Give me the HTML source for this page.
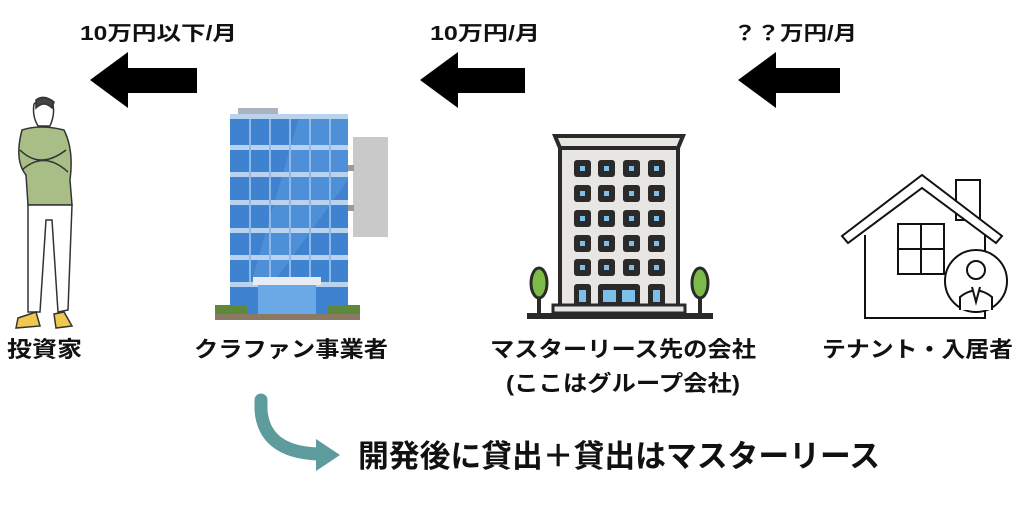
<!DOCTYPE html>
<html><head><meta charset="utf-8"><style>
html,body{margin:0;padding:0;background:#fff;width:1024px;height:530px;overflow:hidden}
svg{display:block}
text{font-family:"Liberation Sans","Noto Sans CJK JP",sans-serif;font-weight:bold;fill:#111}
</style></head><body>
<svg width="1024" height="530" viewBox="0 0 1024 530" xmlns="http://www.w3.org/2000/svg">
<text x="80" y="40" font-size="20" textLength="157" lengthAdjust="spacingAndGlyphs">10万円以下/月</text>
<text x="430" y="40" font-size="20" textLength="110" lengthAdjust="spacingAndGlyphs">10万円/月</text>
<text x="733" y="40" font-size="20" textLength="124" lengthAdjust="spacingAndGlyphs">？？万円/月</text>
<polygon points="90,80 128,52 128,68 197,68 197,93 128,93 128,108" fill="#000"/>
<polygon points="420,80 458,52 458,68 525,68 525,93 458,93 458,108" fill="#000"/>
<polygon points="738,80 776,52 776,68 840,68 840,93 776,93 776,108" fill="#000"/>
<g stroke="#333" stroke-width="1.5">
<path d="M34,104 Q42,96 52,102 Q56,112 50,126 L38,126 Q32,116 34,104Z" fill="#fff"/>
<path d="M36,100 Q44,94 54,102 L52,108 Q44,100 36,108Z" fill="#444"/>
<path d="M22,130 Q40,124 64,130 Q74,150 70,180 L72,205 L28,205 L26,175 Q14,160 22,130Z" fill="#a9bd86"/>
<path d="M20,150 Q40,170 66,150 M22,170 Q44,150 68,172" fill="none"/>
<path d="M28,205 L72,205 L68,310 L58,312 L52,220 L46,220 L40,312 L28,312 Z" fill="#fff"/>
<path d="M18,318 L36,312 L40,326 L16,328Z" fill="#f0c850"/>
<path d="M54,314 L64,312 L72,326 L56,328Z" fill="#f0c850"/>
</g>
<rect x="238" y="108" width="40" height="6" fill="#aab4be"/>
<rect x="230" y="114" width="118" height="200" fill="#3f82cf"/>
<polygon points="300,114 348,114 348,180 270,287 250,287" fill="#5d9de0" opacity="0.5"/>
<g fill="#b9d3ee">
<rect x="230" y="114" width="118" height="5"/><rect x="230" y="145" width="118" height="5"/><rect x="230" y="172" width="118" height="5"/><rect x="230" y="200" width="118" height="5"/><rect x="230" y="228" width="118" height="5"/><rect x="230" y="255" width="118" height="5"/><rect x="230" y="282" width="118" height="5"/>
</g>
<g fill="#8fb8e6">
<rect x="249" y="119" width="2" height="163"/><rect x="269" y="119" width="2" height="163"/><rect x="289" y="119" width="2" height="163"/><rect x="309" y="119" width="2" height="163"/><rect x="329" y="119" width="2" height="163"/>
</g>
<rect x="253" y="277" width="68" height="8" fill="#e6ecf2"/>
<rect x="258" y="285" width="58" height="30" fill="#6aa8e6"/>
<rect x="353" y="137" width="35" height="100" fill="#c9c9c9"/>
<rect x="348" y="165" width="6" height="6" fill="#999"/><rect x="348" y="205" width="6" height="6" fill="#999"/>
<rect x="215" y="305" width="32" height="12" fill="#5d8a3a"/><rect x="328" y="305" width="32" height="12" fill="#5d8a3a"/>
<rect x="215" y="314" width="145" height="6" fill="#8b7a63"/>
<polygon points="555,136 683,136 678,148 560,148" fill="#e8e6e2" stroke="#2a2a2a" stroke-width="4"/>
<rect x="560" y="148" width="118" height="164" fill="#e8e6e2" stroke="#2a2a2a" stroke-width="4"/>
<g fill="#2a2a2a">
<rect x="574" y="160" width="17" height="17" rx="3"/><rect x="598" y="160" width="17" height="17" rx="3"/><rect x="623" y="160" width="17" height="17" rx="3"/><rect x="648" y="160" width="17" height="17" rx="3"/>
<rect x="574" y="185" width="17" height="17" rx="3"/><rect x="598" y="185" width="17" height="17" rx="3"/><rect x="623" y="185" width="17" height="17" rx="3"/><rect x="648" y="185" width="17" height="17" rx="3"/>
<rect x="574" y="210" width="17" height="17" rx="3"/><rect x="598" y="210" width="17" height="17" rx="3"/><rect x="623" y="210" width="17" height="17" rx="3"/><rect x="648" y="210" width="17" height="17" rx="3"/>
<rect x="574" y="235" width="17" height="17" rx="3"/><rect x="598" y="235" width="17" height="17" rx="3"/><rect x="623" y="235" width="17" height="17" rx="3"/><rect x="648" y="235" width="17" height="17" rx="3"/>
<rect x="574" y="259" width="17" height="17" rx="3"/><rect x="598" y="259" width="17" height="17" rx="3"/><rect x="623" y="259" width="17" height="17" rx="3"/><rect x="648" y="259" width="17" height="17" rx="3"/>
<rect x="574" y="284" width="17" height="22" rx="3"/><rect x="598" y="284" width="42" height="22" rx="3"/><rect x="648" y="284" width="17" height="22" rx="3"/>
</g>
<g fill="#7cc0ea">
<rect x="580" y="166" width="5" height="5"/><rect x="604" y="166" width="5" height="5"/><rect x="629" y="166" width="5" height="5"/><rect x="654" y="166" width="5" height="5"/>
<rect x="580" y="191" width="5" height="5"/><rect x="604" y="191" width="5" height="5"/><rect x="629" y="191" width="5" height="5"/><rect x="654" y="191" width="5" height="5"/>
<rect x="580" y="216" width="5" height="5"/><rect x="604" y="216" width="5" height="5"/><rect x="629" y="216" width="5" height="5"/><rect x="654" y="216" width="5" height="5"/>
<rect x="580" y="241" width="5" height="5"/><rect x="604" y="241" width="5" height="5"/><rect x="629" y="241" width="5" height="5"/><rect x="654" y="241" width="5" height="5"/>
<rect x="580" y="265" width="5" height="5"/><rect x="604" y="265" width="5" height="5"/><rect x="629" y="265" width="5" height="5"/><rect x="654" y="265" width="5" height="5"/>
<rect x="579" y="290" width="7" height="12"/><rect x="603" y="290" width="13" height="12"/><rect x="622" y="290" width="13" height="12"/><rect x="653" y="290" width="7" height="12"/>
</g>
<rect x="553" y="305" width="132" height="8" fill="#e8e6e2" stroke="#2a2a2a" stroke-width="3"/>
<rect x="527" y="313" width="186" height="6" fill="#2a2a2a"/>
<g stroke="#2a2a2a" stroke-width="4"><line x1="539" y1="290" x2="539" y2="313"/><line x1="700" y1="290" x2="700" y2="313"/></g>
<ellipse cx="539" cy="283" rx="8" ry="15" fill="#7dbb48" stroke="#2a2a2a" stroke-width="3"/>
<ellipse cx="700" cy="283" rx="8" ry="15" fill="#7dbb48" stroke="#2a2a2a" stroke-width="3"/>
<g fill="#fff" stroke="#111" stroke-width="2">
<rect x="956" y="180" width="24" height="40"/>
<path d="M865,235 L865,318 L985,318 L985,235"/>
<path d="M842,236 L922,175 L1002,236 L996,243 L922,188 L848,243Z"/>
<rect x="898" y="224" width="46" height="50"/>
<line x1="921" y1="224" x2="921" y2="274"/><line x1="898" y1="249" x2="944" y2="249"/>
<circle cx="976" cy="281" r="31"/>
<circle cx="976" cy="270" r="9"/>
<path d="M960,310 L960,297 Q976,284 992,297 L992,310"/>
<path d="M972,287 L976,302 L980,287"/>
</g>
<text x="7" y="357" font-size="22" textLength="75" lengthAdjust="spacingAndGlyphs">投資家</text>
<text x="194" y="357" font-size="22" textLength="194" lengthAdjust="spacingAndGlyphs">クラファン事業者</text>
<text x="490" y="357" font-size="22" textLength="266" lengthAdjust="spacingAndGlyphs">マスターリース先の会社</text>
<text x="506" y="391" font-size="22" textLength="234" lengthAdjust="spacingAndGlyphs">(ここはグループ会社)</text>
<text x="822" y="357" font-size="22" textLength="191" lengthAdjust="spacingAndGlyphs">テナント・入居者</text>
<path d="M261,400 L261,410 Q264,452 318,454" fill="none" stroke="#5e9b9d" stroke-width="13" stroke-linecap="round"/>
<polygon points="316,439 340,455 316,471" fill="#5e9b9d"/>
<text x="358" y="467" font-size="31" textLength="522" lengthAdjust="spacingAndGlyphs">開発後に貸出＋貸出はマスターリース</text>
</svg>
</body></html>
